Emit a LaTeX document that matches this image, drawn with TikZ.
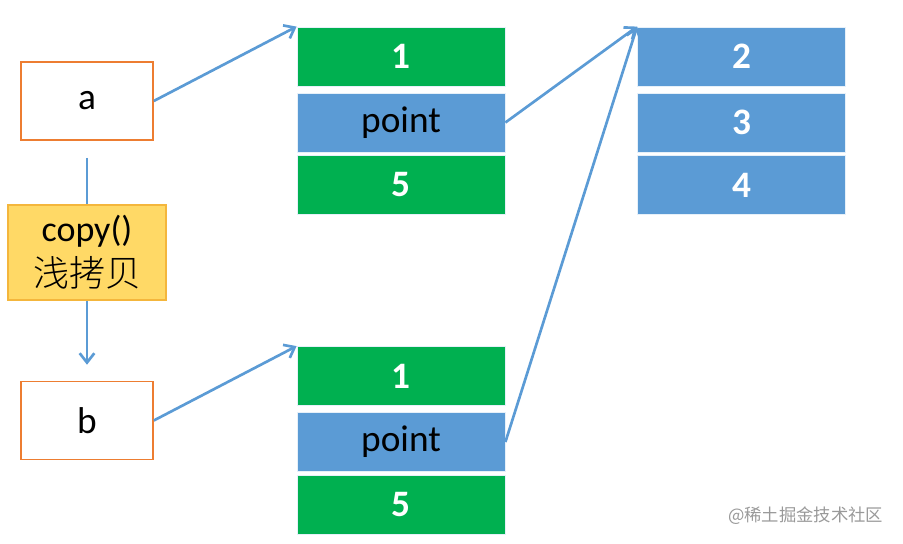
\documentclass[tikz,border=0pt]{standalone}
\usepackage{fontspec}
\setmainfont{Carlito}
\newfontfamily\cjk{Noto Sans CJK SC Light}
\newfontfamily\cjkwm{Noto Sans CJK SC}
\usetikzlibrary{arrows.meta}
\definecolor{cgreen}{HTML}{00B050}
\definecolor{cblue}{HTML}{5B9BD5}
\definecolor{corange}{HTML}{ED7D31}
\definecolor{cyellow}{HTML}{FFD966}
\definecolor{cyborder}{HTML}{F4B63C}
\begin{document}
\begin{tikzpicture}[x=0.75pt,y=-0.75pt,
  cell/.style={draw=white!85!cblue,line width=0.6pt,minimum width=156pt,minimum height=44.25pt,inner sep=0pt,font=\fontsize{28}{30}\selectfont},
  gcell/.style={cell,fill=cgreen,text=white,font=\fontsize{28}{30}\selectfont\bfseries},
  bcell/.style={cell,fill=cblue,text=white,font=\fontsize{28}{30}\selectfont\bfseries},
  pcell/.style={cell,fill=cblue,text=black},
  var/.style={draw=corange,line width=1.2pt,fill=white,minimum width=99pt,minimum height=58.5pt,inner sep=0pt,font=\fontsize{28}{30}\selectfont},
  conn/.style={draw=cblue,line width=2pt,-{Straight Barb[length=7pt,width=11pt,line width=2pt]}}
]
\useasboundingbox (0,0) rectangle (903,543);
% variables
\node[var] (a) at (87,101) {a};
\node[var] (b) at (87,420.5) {b};
\node[draw=cyborder,line width=1.2pt,fill=cyellow,minimum width=118.5pt,minimum height=71.25pt,inner sep=0pt,align=center,font=\fontsize{27}{34}\selectfont] (c) at (87,252.5) {copy()\\{\cjk 浅拷贝}};
% top list
\node[gcell] (t1) at (401,56.5) {1};
\node[pcell] (tp) at (401,122.5) {point};
\node[gcell] (t5) at (401,185) {5};
% bottom list
\node[gcell] (u1) at (401,376) {1};
\node[pcell] (up) at (401,442) {point};
\node[gcell] (u5) at (401,505) {5};
% right list
\node[bcell] (r2) at (741.5,56.5) {2};
\node[bcell] (r3) at (741.5,122.5) {3};
\node[bcell] (r4) at (741.5,185) {4};
% connectors
\draw[draw=cblue,line width=2pt,shorten <=12.75pt] (a.south) -- (c.north);
\draw[conn,shorten >=12pt] (c.south) -- (b.north);
\draw[conn] (a.east) -- (t1.north west);
\draw[conn] (b.east) -- (u1.north west);
\draw[conn] (tp.east) -- (r2.north west);
\draw[conn] (up.east) -- (r2.north west);
% watermark
\node[text=black!40,font=\cjkwm\fontsize{13}{15}\selectfont,anchor=east] (wm) at (888,516) {@稀土掘金技术社区};
\end{tikzpicture}
\end{document}
